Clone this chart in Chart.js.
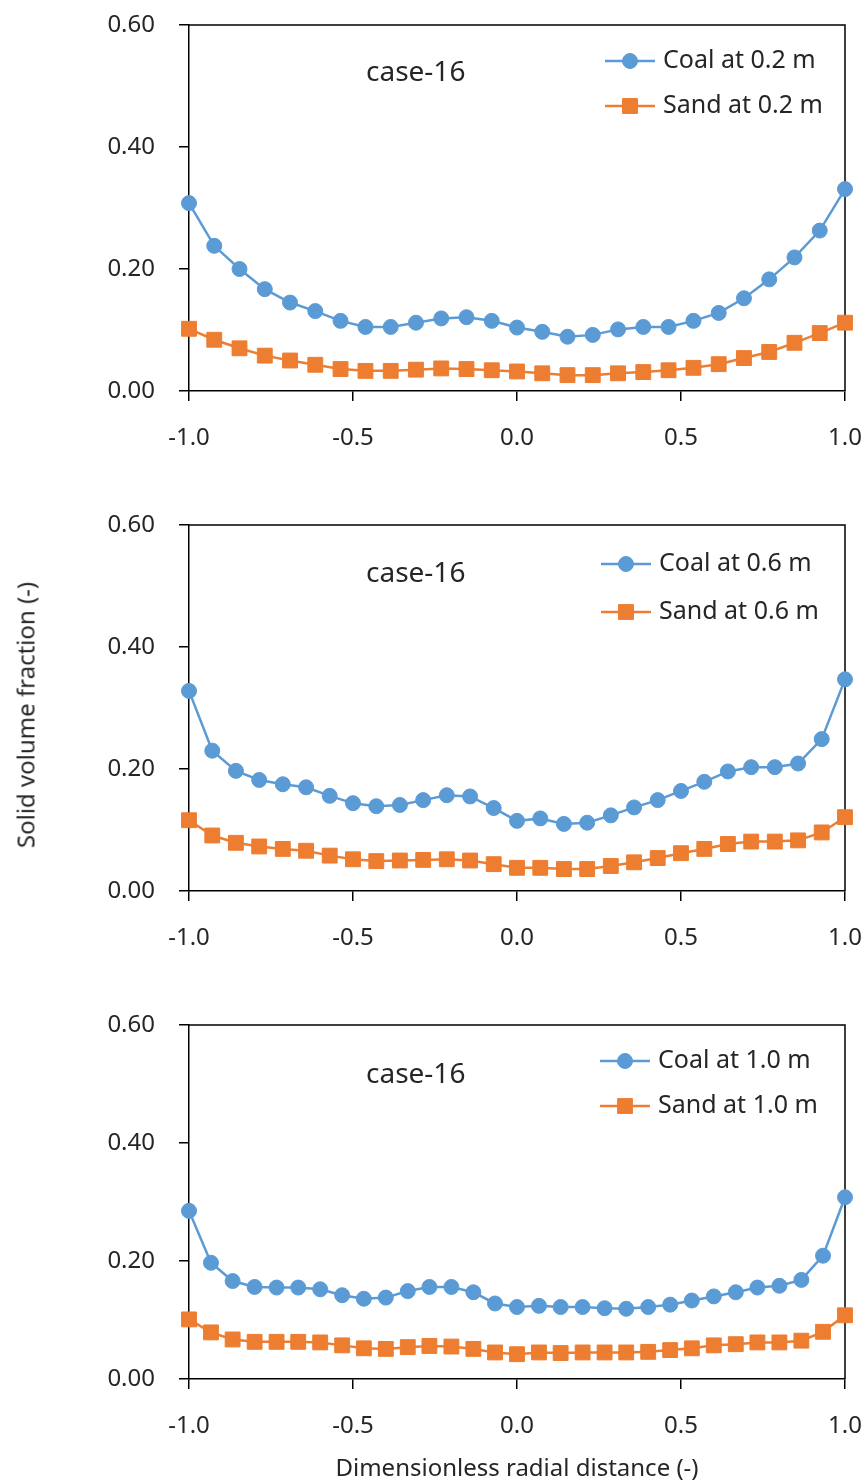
<!DOCTYPE html>
<html>
<head>
<meta charset="utf-8">
<script src="https://cdn.jsdelivr.net/npm/chart.js@4.4.1/dist/chart.umd.min.js"></script>
<style>
    body { margin: 0; background: #fff; width: 865px; height: 1482px; position: relative; overflow: hidden; font-family: "Noto Sans", sans-serif; }
    .panel { position: absolute; left: 0; width: 865px; }
    .axis-title { position: absolute; font-size: 24px; color: #262626; white-space: nowrap; transform: translate(-50%, -50%); }
    #yTitle { left: 25px; top: 715px; transform: translate(-50%, -50%) rotate(-90deg); }
    #xTitle { left: 517px; top: 1466px; }
</style>
</head>
<body>
<div class="panel" style="top:0;height:480px"><canvas id="chart02"></canvas></div>
<div class="panel" style="top:500px;height:480px"><canvas id="chart06"></canvas></div>
<div class="panel" style="top:1000px;height:468px"><canvas id="chart10"></canvas></div>
<div class="axis-title" id="yTitle">Solid volume fraction (-)</div>
<div class="axis-title" id="xTitle">Dimensionless radial distance (-)</div>
<script>
const caseLabel = 'case-16';
const xTickValues = [-1.0, -0.5, 0.0, 0.5, 1.0];
const yTickValues = [0.0, 0.2, 0.4, 0.6];

// radial positions (27 / 29 / 31 sample points)
const r02 = [-1.000, -0.923, -0.846, -0.769, -0.692, -0.615, -0.538, -0.462, -0.385, -0.308, -0.231, -0.154, -0.077, 0.000,
    0.077, 0.154, 0.231, 0.308, 0.385, 0.462, 0.538, 0.615, 0.692, 0.769, 0.846, 0.923, 1.000];
const r06 = [-1.000, -0.929, -0.857, -0.786, -0.714, -0.643, -0.571, -0.500, -0.429, -0.357, -0.286, -0.214, -0.143, -0.071, 0.000,
    0.071, 0.143, 0.214, 0.286, 0.357, 0.429, 0.500, 0.571, 0.643, 0.714, 0.786, 0.857, 0.929, 1.000];
const r10 = [-1.000, -0.933, -0.867, -0.800, -0.733, -0.667, -0.600, -0.533, -0.467, -0.400, -0.333, -0.267, -0.200, -0.133, -0.067, 0.000,
    0.067, 0.133, 0.200, 0.267, 0.333, 0.400, 0.467, 0.533, 0.600, 0.667, 0.733, 0.800, 0.867, 0.933, 1.000];

const coal02 = [0.308, 0.238, 0.200, 0.167, 0.145, 0.131, 0.115, 0.105, 0.105, 0.112, 0.119, 0.121, 0.115, 0.104,
    0.097, 0.089, 0.092, 0.101, 0.105, 0.105, 0.115, 0.128, 0.152, 0.183, 0.219, 0.263, 0.331];
const sand02 = [0.102, 0.084, 0.070, 0.058, 0.050, 0.043, 0.036, 0.033, 0.033, 0.035, 0.037, 0.036, 0.034, 0.032,
    0.029, 0.026, 0.026, 0.029, 0.031, 0.034, 0.038, 0.044, 0.054, 0.064, 0.079, 0.095, 0.112];

const coal06 = [0.328, 0.230, 0.197, 0.182, 0.175, 0.170, 0.156, 0.144, 0.139, 0.141, 0.149, 0.157, 0.155, 0.136, 0.115,
    0.119, 0.110, 0.112, 0.124, 0.137, 0.149, 0.164, 0.179, 0.196, 0.203, 0.203, 0.209, 0.249, 0.347];
const sand06 = [0.116, 0.091, 0.079, 0.073, 0.069, 0.066, 0.058, 0.052, 0.049, 0.050, 0.051, 0.052, 0.050, 0.044, 0.038,
    0.038, 0.036, 0.036, 0.041, 0.047, 0.054, 0.062, 0.069, 0.077, 0.081, 0.081, 0.083, 0.096, 0.121];

const coal10 = [0.285, 0.197, 0.166, 0.156, 0.155, 0.155, 0.152, 0.142, 0.136, 0.138, 0.149, 0.156, 0.156, 0.147, 0.128, 0.122,
    0.124, 0.122, 0.122, 0.120, 0.119, 0.122, 0.126, 0.133, 0.140, 0.147, 0.155, 0.158, 0.168, 0.209, 0.308];
const sand10 = [0.101, 0.079, 0.067, 0.063, 0.063, 0.063, 0.062, 0.057, 0.052, 0.051, 0.054, 0.056, 0.055, 0.051, 0.045, 0.042,
    0.045, 0.044, 0.045, 0.045, 0.045, 0.046, 0.049, 0.052, 0.057, 0.059, 0.062, 0.062, 0.065, 0.080, 0.108];

const colors = {
    coal: '#5b9bd5',
    sand: '#ed7d31',
    axis: '#000000',
    text: '#262626',
};
const fontFamily = '"Noto Sans", sans-serif';

// frame on top/right, "case-16" label and line+marker legend
const panelDecor = {
    id: 'panelDecor',
    beforeDatasetsDraw(chart) {
        const { ctx, chartArea: a } = chart;
        ctx.save();
        ctx.strokeStyle = colors.axis;
        ctx.lineWidth = 1.5;
        ctx.beginPath();
        ctx.moveTo(a.left, a.top);
        ctx.lineTo(a.right, a.top);
        ctx.lineTo(a.right, a.bottom);
        ctx.stroke();
        ctx.restore();
    },
    afterDraw(chart, args, opts) {
        const { ctx, chartArea: a } = chart;
        ctx.save();
        ctx.fillStyle = colors.text;
        ctx.textBaseline = 'middle';
        ctx.textAlign = 'left';
        ctx.font = `28px ${fontFamily}`;
        ctx.fillText(caseLabel, a.left + 177, a.top + opts.caseY);

        ctx.font = `25px ${fontFamily}`;
        chart.data.datasets.forEach((ds, i) => {
            const y = a.top + opts.legendY[i];
            const x0 = a.right - opts.legendX;
            ctx.strokeStyle = ds.borderColor;
            ctx.lineWidth = ds.borderWidth;
            ctx.beginPath();
            ctx.moveTo(x0, y);
            ctx.lineTo(x0 + 50, y);
            ctx.stroke();
            ctx.fillStyle = ds.pointBackgroundColor;
            ctx.lineWidth = 1;
            Chart.helpers.drawPoint(ctx, {
                pointStyle: ds.pointStyle,
                radius: ds.pointRadius,
                rotation: 0,
                borderWidth: 1,
            }, x0 + 25, y);
            ctx.fillStyle = colors.text;
            ctx.fillText(ds.label, x0 + 58, y);
        });
        ctx.restore();
    },
};

function toPoints(xs, ys) {
    return xs.map((x, i) => ({ x, y: ys[i] }));
}

function series(label, xs, ys, color, style, radius) {
    return {
        label,
        data: toPoints(xs, ys),
        borderColor: color,
        backgroundColor: color,
        pointBackgroundColor: color,
        pointBorderColor: color,
        borderWidth: 2.5,
        pointStyle: style,
        pointRadius: radius,
        pointBorderWidth: 1,
        tension: 0,
        clip: false,
    };
}

function buildPanel(canvas, xs, coal, sand, heightLabel, decor) {
    return new Chart(canvas, {
        type: 'line',
        data: {
            datasets: [
                series(`Coal at ${heightLabel} m`, xs, coal, colors.coal, 'circle', 7.5),
                series(`Sand at ${heightLabel} m`, xs, sand, colors.sand, 'rect', 10.5),
            ],
        },
        options: {
            responsive: true,
            maintainAspectRatio: false,
            animation: false,
            layout: { padding: { top: 25, right: 20, left: 0, bottom: 0 } },
            scales: {
                x: {
                    type: 'linear',
                    min: -1,
                    max: 1,
                    afterBuildTicks: (s) => { s.ticks = xTickValues.map((v) => ({ value: v })); },
                    afterFit: (s) => {
                        s.height = 89;
                        s.paddingLeft = 0;
                        s.paddingRight = 0;
                    },
                    grid: { drawOnChartArea: false, drawTicks: true, tickLength: 10, color: colors.axis, lineWidth: 1.5 },
                    border: { display: true, color: colors.axis, width: 1.5 },
                    ticks: {
                        padding: 23,
                        color: colors.text,
                        font: { family: fontFamily, size: 24 },
                        maxRotation: 0,
                        autoSkip: false,
                        callback: (v) => Number(v).toFixed(1),
                    },
                },
                y: {
                    min: 0,
                    max: 0.6,
                    afterBuildTicks: (s) => { s.ticks = yTickValues.map((v) => ({ value: v })); },
                    afterFit: (s) => {
                        s.width = 189;
                        s.paddingTop = 0;
                        s.paddingBottom = 0;
                    },
                    grid: { drawOnChartArea: false, drawTicks: true, tickLength: 10, color: colors.axis, lineWidth: 1.5 },
                    border: { display: true, color: colors.axis, width: 1.5 },
                    ticks: {
                        padding: 24,
                        color: colors.text,
                        font: { family: fontFamily, size: 24 },
                        callback: (v) => Number(v).toFixed(2),
                    },
                },
            },
            plugins: {
                legend: { display: false },
                tooltip: { enabled: false },
                panelDecor: decor,
            },
        },
        plugins: [panelDecor],
    });
}

buildPanel(document.getElementById('chart02'), r02, coal02, sand02, '0.2',
    { caseY: 48, legendY: [36, 81], legendX: 240 });
buildPanel(document.getElementById('chart06'), r06, coal06, sand06, '0.6',
    { caseY: 49, legendY: [39, 87], legendX: 244 });
buildPanel(document.getElementById('chart10'), r10, coal10, sand10, '1.0',
    { caseY: 50, legendY: [36, 81], legendX: 245 });
</script>
</body>
</html>
